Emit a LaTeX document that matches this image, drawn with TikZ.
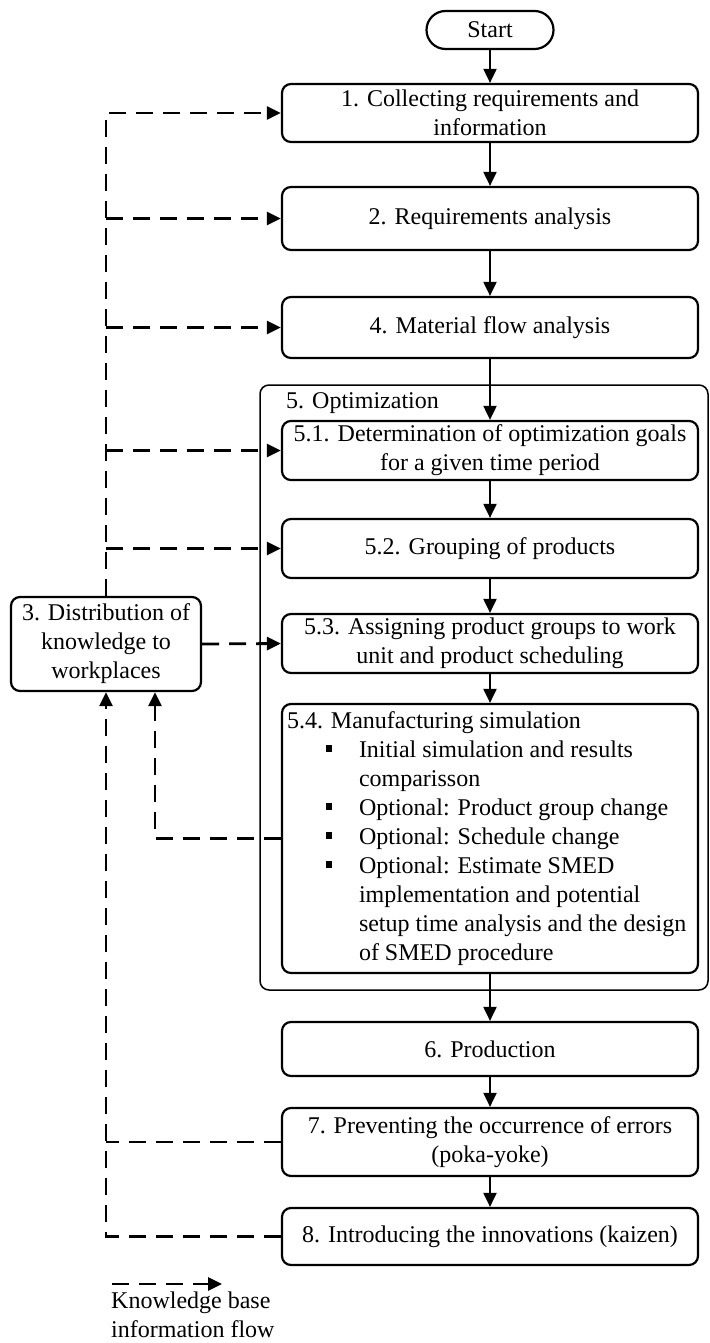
\documentclass[tikz,border=0pt]{standalone}
\usepackage{fontspec}
\setmainfont{Liberation Serif}
\usetikzlibrary{arrows.meta}
\begin{document}
\begin{tikzpicture}[x=1pt,y=-1pt,
  txt/.style={font=\fontsize{24}{29}\selectfont},
  box/.style={draw, line width=2.2pt, rounded corners=9pt, minimum width=416pt,
    inner sep=4pt, align=center, txt},
  grp/.style={draw, line width=1.5pt, rounded corners=9pt},
  flow/.style={-{Triangle[length=14pt,width=13pt]}, line width=2pt},
  know/.style={line width=2.8pt, dash pattern=on 17pt off 10pt},
  knowarrow/.style={know, -{Triangle[length=14pt,width=13pt]}}
]
\useasboundingbox (0,0) rectangle (709,1343);

% group 5
\node[grp, minimum width=448pt, minimum height=605pt, inner sep=0pt] (g5) at (484,687.5) {};
\node[txt, anchor=west, inner sep=0pt] (g5t) at (286,403) {5. Optimization};

\node[draw, line width=2.2pt, rounded corners=19pt, minimum width=127pt, minimum height=38pt, txt, inner sep=2pt] (st) at (490,30) {Start};
\node[box, minimum height=58pt] (b1) at (490,113) {1. Collecting requirements and\\information};
\node[box, minimum height=63pt] (b2) at (490,218.5) {2. Requirements analysis};
\node[box, minimum height=61pt] (b4) at (490,327.5) {4. Material flow analysis};
\node[box, minimum height=59pt] (b51) at (490,450.5) {5.1. Determination of optimization goals\\for a given time period};
\node[box, minimum height=59pt] (b52) at (490,548.5) {5.2. Grouping of products};
\node[box, minimum height=59pt] (b53) at (490,643.5) {5.3. Assigning product groups to work\\unit and product scheduling};
\node[box, minimum height=269pt, align=left] (b54) at (490,838.5) {%
\begin{minipage}{406pt}\raggedright
5.4. Manufacturing simulation\par
\begin{list}{\rule[5pt]{6pt}{7pt}}{\setlength{\leftmargin}{72pt}\setlength{\labelsep}{27pt}%
\setlength{\labelwidth}{6pt}\setlength{\itemsep}{0pt}\setlength{\topsep}{0pt}%
\setlength{\parsep}{0pt}\setlength{\partopsep}{0pt}\setlength{\rightmargin}{0pt}}
\item Initial simulation and results\newline comparisson
\item Optional: Product group change
\item Optional: Schedule change
\item Optional: Estimate SMED\newline implementation and potential\newline setup time analysis and the design\newline of SMED procedure
\end{list}
\end{minipage}};
\node[box, minimum height=54pt] (b6) at (490,1049) {6. Production};
\node[box, minimum height=68pt] (b7) at (490,1142) {7. Preventing the occurrence of errors\\(poka-yoke)};
\node[box, minimum height=57pt] (b8) at (490,1236.5) {8. Introducing the innovations (kaizen)};
\node[box, minimum width=190pt, minimum height=94pt] (b3) at (106,644) {3. Distribution of\\knowledge to\\workplaces};

% main flow
\draw[flow] (st) -- (b1);
\draw[flow] (b1) -- (b2);
\draw[flow] (b2) -- (b4);
\draw[flow] (b4) -- (b51);
\draw[flow] (b51) -- (b52);
\draw[flow] (b52) -- (b53);
\draw[flow] (b53) -- (b54);
\draw[flow] (b54) -- (b6);
\draw[flow] (b6) -- (b7);
\draw[flow] (b7) -- (b8);

% knowledge flow
\draw[knowarrow] (b3.north) |- (b1.west);
\draw[knowarrow] (b3.north |- b2.west) -- (b2.west);
\draw[knowarrow] (b3.north |- b4.west) -- (b4.west);
\draw[knowarrow] (b3.north |- b51.west) -- (b51.west);
\draw[knowarrow] (b3.north |- b52.west) -- (b52.west);
\draw[knowarrow] (b3.east) -- (b53.west);
\coordinate (b3s2) at ([xshift=49pt]b3.south);
\draw[knowarrow] (b54.west) -| (b3s2);
\draw[knowarrow] (b8.west) -| (b3.south);
\draw[know] (b7.west) -- (b7.west -| b3.south);

% legend
\coordinate (la) at (112,1284);
\coordinate (lb) at (222,1284);
\draw[knowarrow] (la) -- (lb);
\node[txt, anchor=base west, align=left, inner sep=0pt] (lt) at (111,1337) {Knowledge base\\information flow};
\end{tikzpicture}
\end{document}
